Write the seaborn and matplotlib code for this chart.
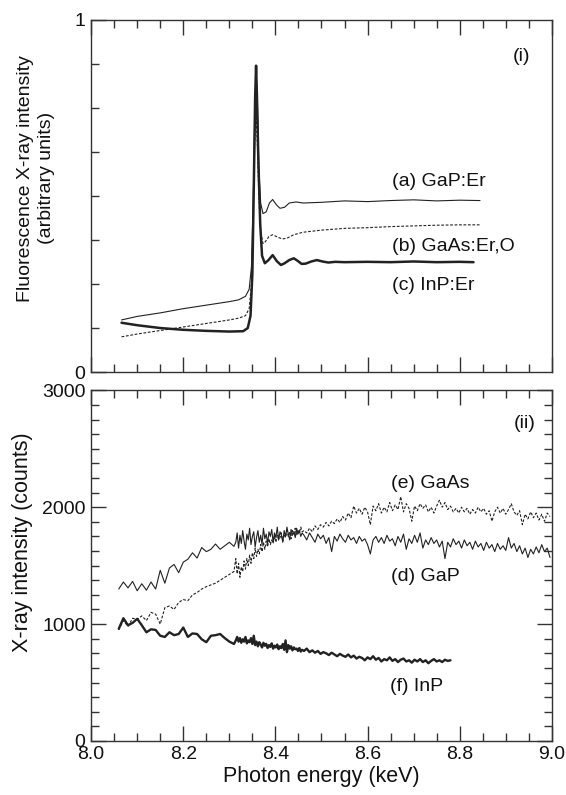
import numpy as np
import pandas as pd
import matplotlib
matplotlib.use("Agg")
import matplotlib.pyplot as plt
from matplotlib.ticker import MultipleLocator, FixedLocator
import seaborn as sns

# ---- panel (i): fluorescence spectra (arbitrary units) ----
gaper_x = [8.066, 8.10, 8.15, 8.20, 8.25, 8.30, 8.32, 8.335, 8.343, 8.348, 8.352, 8.355,
           8.358, 8.361, 8.364, 8.368, 8.373, 8.380, 8.387, 8.394, 8.402, 8.410, 8.420,
           8.430, 8.445, 8.46, 8.50, 8.55, 8.60, 8.65, 8.70, 8.75, 8.80, 8.844]
gaper_y = [0.148, 0.158, 0.168, 0.180, 0.190, 0.200, 0.205, 0.215, 0.235, 0.300, 0.500, 0.720,
           0.860, 0.760, 0.580, 0.480, 0.450, 0.455, 0.480, 0.490, 0.475, 0.465, 0.468,
           0.480, 0.483, 0.480, 0.482, 0.486, 0.484, 0.487, 0.489, 0.486, 0.488, 0.487]

gaaser_x = [8.066, 8.10, 8.15, 8.20, 8.25, 8.30, 8.32, 8.335, 8.343, 8.348, 8.352, 8.355,
            8.358, 8.361, 8.364, 8.368, 8.373, 8.378, 8.386, 8.394, 8.405, 8.415, 8.425,
            8.44, 8.46, 8.50, 8.55, 8.60, 8.65, 8.70, 8.75, 8.80, 8.845]
gaaser_y = [0.100, 0.108, 0.118, 0.128, 0.138, 0.148, 0.153, 0.160, 0.180, 0.250, 0.450, 0.650,
            0.735, 0.640, 0.500, 0.400, 0.365, 0.370, 0.385, 0.390, 0.383, 0.378, 0.380,
            0.390, 0.397, 0.403, 0.408, 0.410, 0.413, 0.415, 0.417, 0.418, 0.418]

inper_x = [8.066, 8.10, 8.15, 8.20, 8.25, 8.30, 8.33, 8.340, 8.346, 8.350, 8.353, 8.356,
           8.358, 8.360, 8.363, 8.367, 8.371, 8.377, 8.385, 8.394, 8.403, 8.412, 8.420,
           8.430, 8.440, 8.448, 8.457, 8.466, 8.478, 8.490, 8.502, 8.515, 8.53, 8.55,
           8.60, 8.65, 8.70, 8.75, 8.80, 8.83]
inper_y = [0.140, 0.133, 0.125, 0.120, 0.117, 0.115, 0.116, 0.125, 0.160, 0.280, 0.520, 0.780,
           0.870, 0.780, 0.600, 0.420, 0.330, 0.309, 0.318, 0.332, 0.315, 0.304, 0.309,
           0.318, 0.323, 0.316, 0.307, 0.308, 0.314, 0.318, 0.314, 0.311, 0.313, 0.312,
           0.313, 0.312, 0.314, 0.312, 0.313, 0.312]

# ---- panel (ii): X-ray intensity (counts), three scan segments per curve ----
gap_coarse = [1300, 1360, 1310, 1365, 1285, 1345, 1290, 1360, 1300, 1460, 1350, 1480, 1510,
              1440, 1530, 1555, 1610, 1565, 1655, 1620, 1640, 1685, 1640, 1670, 1700, 1665]
gap_dense = [1700, 1780, 1650, 1760, 1690, 1800, 1710, 1640, 1770, 1720,
             1820, 1680, 1750, 1790, 1660, 1740, 1800, 1700, 1760, 1680,
             1820, 1730, 1770, 1690, 1790, 1750, 1810, 1700, 1780, 1740,
             1830, 1720, 1790, 1760, 1700, 1800, 1750, 1830, 1770, 1720,
             1810, 1760, 1790, 1740, 1820, 1770, 1800, 1750, 1780]
gap_tail = [1760, 1720, 1780, 1740, 1700, 1770, 1730, 1760, 1690, 1740,
            1620, 1750, 1710, 1770, 1730, 1700, 1760, 1720, 1740, 1690,
            1750, 1710, 1730, 1680, 1600, 1720, 1750, 1700, 1740, 1690,
            1760, 1710, 1730, 1670, 1750, 1700, 1770, 1640, 1730, 1690,
            1760, 1700, 1780, 1650, 1720, 1680, 1740, 1690, 1720, 1660,
            1710, 1560, 1700, 1660, 1730, 1680, 1710, 1650, 1720, 1670,
            1700, 1640, 1710, 1660, 1690, 1630, 1700, 1650, 1680, 1620,
            1690, 1640, 1670, 1630, 1740, 1650, 1690, 1620, 1670, 1600,
            1650, 1570, 1640, 1600, 1660, 1610, 1680, 1620, 1650, 1570]

gaas_coarse = [950, 1030, 980, 1050, 1040, 1070, 1030, 1100, 1085, 1000, 1140, 1155, 1125,
               1185, 1210, 1200, 1250, 1270, 1300, 1320, 1335, 1350, 1375, 1400, 1425, 1450]
gaas_dense = [1560, 1430, 1520, 1400, 1490, 1450, 1540, 1470, 1560, 1500,
              1590, 1520, 1610, 1560, 1650, 1580, 1640, 1600, 1680, 1620,
              1700, 1640, 1710, 1660, 1730, 1680, 1720, 1690, 1750, 1700,
              1760, 1720, 1740, 1780, 1710, 1770, 1740, 1800, 1750, 1790,
              1730, 1800, 1770, 1820, 1760, 1800, 1780, 1830, 1790]
gaas_tail = [1800, 1780, 1820, 1790, 1840, 1810, 1850, 1830, 1870, 1840,
             1880, 1860, 1900, 1870, 1920, 1890, 1950, 1910, 2010, 1950,
             1990, 1940, 2000, 1960, 1850, 2010, 1970, 2030, 1950, 2000,
             1960, 2040, 1970, 2020, 1980, 2090, 1960, 2030, 1990, 1880,
             2010, 1970, 2030, 1990, 2020, 1960, 2000, 1950, 2010, 2060,
             2000, 2040, 1980, 2010, 1960, 1990, 1950, 2000, 1960, 1990,
             1940, 1980, 1950, 2000, 1960, 1990, 1940, 1970, 1880, 1960,
             2000, 1950, 1990, 1940, 1980, 2030, 1960, 1930, 1970, 1850,
             1940, 1900, 1960, 1910, 1950, 1890, 1940, 1880, 1950, 1920]

inp_coarse = [960, 1050, 990, 1010, 1045, 990, 930, 955, 950, 900, 890, 930, 905,
              915, 970, 890, 920, 915, 870, 845, 900, 905, 915, 880, 850, 830]
inp_dense = [860, 890, 850, 880, 840, 870, 850, 890, 835, 860,
             845, 880, 830, 900, 820, 850, 810, 845, 825, 800,
             840, 815, 830, 795, 820, 805, 835, 790, 815, 800,
             825, 785, 810, 795, 830, 780, 860, 760, 820, 790,
             810, 775, 800, 785, 790, 770, 795, 765, 780]
inp_tail = [770, 790, 760, 775, 755, 770, 745, 760, 750, 735,
            755, 740, 725, 745, 730, 720, 740, 715, 730, 705,
            720, 710, 690, 715, 700, 725, 695, 710, 680, 700,
            690, 715, 685, 700, 675, 695, 705, 680, 690, 670,
            695, 680, 700, 675, 690, 665, 685, 700, 680, 690,
            675, 695, 685, 690]


def energies(coarse, dense, tail, tail_end):
    # measurement energies of the three scan segments
    return np.concatenate([np.linspace(8.06, 8.31, len(coarse)),
                           np.linspace(8.314, 8.458, len(dense)),
                           np.linspace(8.462, tail_end, len(tail))])


gap = pd.DataFrame({"E": energies(gap_coarse, gap_dense, gap_tail, 8.996),
                    "I": gap_coarse + gap_dense + gap_tail})
gaas = pd.DataFrame({"E": energies(gaas_coarse, gaas_dense, gaas_tail, 8.996),
                     "I": gaas_coarse + gaas_dense + gaas_tail})
inp = pd.DataFrame({"E": energies(inp_coarse, inp_dense, inp_tail, 8.78),
                    "I": inp_coarse + inp_dense + inp_tail})

sns.set_theme(style="ticks")
plt.rcParams["font.family"] = ["Liberation Sans", "DejaVu Sans"]
plt.rcParams["axes.edgecolor"] = "#333333"
plt.rcParams["axes.linewidth"] = 1.0

ink = "#222222"
fig = plt.figure(figsize=(5.66, 7.95), dpi=100)
ax1 = fig.add_axes([0.161, 0.532, 0.814, 0.443])
ax2 = fig.add_axes([0.161, 0.068, 0.814, 0.441])

# panel (i)
sns.lineplot(x=gaper_x, y=gaper_y, ax=ax1, color=ink, lw=0.8, sort=False, estimator=None)
sns.lineplot(x=gaaser_x, y=gaaser_y, ax=ax1, color=ink, lw=0.8, sort=False, estimator=None,
             linestyle=(0, (2.5, 1.5)))
sns.lineplot(x=inper_x, y=inper_y, ax=ax1, color=ink, lw=1.8, sort=False, estimator=None)

# panel (ii)
sns.lineplot(data=gap, x="E", y="I", ax=ax2, color=ink, lw=0.8, sort=False, estimator=None)
sns.lineplot(data=gaas, x="E", y="I", ax=ax2, color=ink, lw=0.8, sort=False, estimator=None,
             linestyle=(0, (2.5, 1.5)))
sns.lineplot(data=inp, x="E", y="I", ax=ax2, color=ink, lw=1.7, sort=False, estimator=None)

for ax in (ax1, ax2):
    ax.set_xlim(8.0, 9.0)
    ax.xaxis.set_major_locator(MultipleLocator(0.2))
    ax.xaxis.set_minor_locator(MultipleLocator(0.05))
    ax.tick_params(which="major", direction="in", length=11, width=1.0, colors="#333333",
                   labelcolor="#111111", labelsize=14, pad=4)
    ax.tick_params(which="minor", direction="in", length=6, width=1.0, colors="#333333")

ax1.set_ylim(0, 1)
ax1.yaxis.set_major_locator(FixedLocator([0, 1]))
ax1.yaxis.set_minor_locator(MultipleLocator(0.125))
ax1.tick_params(which="both", top=True, bottom=True, left=True, right=False, labelbottom=False)
ax1.set_xlabel("")
ax1.set_ylabel("Fluorescence X-ray intensity\n(arbitrary units)", fontsize=14,
               linespacing=1.35, color="#111111")
ax1.yaxis.set_label_coords(-0.078, 0.55)

ax2.set_ylim(0, 3000)
ax2.yaxis.set_major_locator(MultipleLocator(1000))
ax2.yaxis.set_minor_locator(MultipleLocator(125))
ax2.tick_params(which="both", top=True, bottom=True, left=True, right=True)
ax2.set_xticks([8.0, 8.2, 8.4, 8.6, 8.8, 9.0])
ax2.set_xticklabels(["8.0", "8.2", "8.4", "8.6", "8.8", "9.0"])
ax2.set_xlabel("Photon energy (keV)", fontsize=15.5, labelpad=2, color="#111111")
ax2.set_ylabel("X-ray intensity (counts)", fontsize=15.5, color="#111111")
ax2.yaxis.set_label_coords(-0.126, 0.568)

txt = dict(fontsize=14, color="#111111", va="center", ha="left")
ax1.text(8.915, 0.895, "(i)", **txt)
ax1.text(8.652, 0.541, "(a) GaP:Er", **txt)
ax1.text(8.652, 0.356, "(b) GaAs:Er,O", **txt)
ax1.text(8.652, 0.247, "(c) InP:Er", **txt)

ax2.text(8.918, 2715, "(ii)", **txt)
ax2.text(8.650, 2203, "(e) GaAs", **txt)
ax2.text(8.650, 1410, "(d) GaP", **txt)
ax2.text(8.648, 464, "(f) InP", **txt)

fig.savefig("out.png", dpi=100)
